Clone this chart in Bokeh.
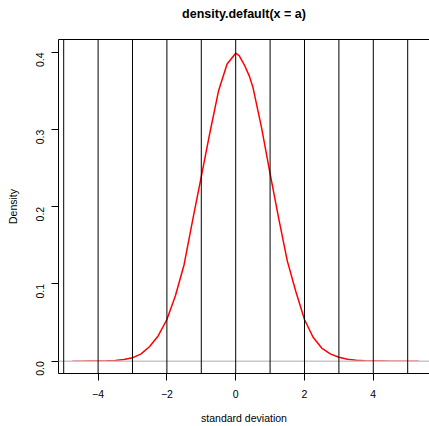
import math
from bokeh.plotting import figure
from bokeh.models import Range1d, Span, LinearAxis, FixedTicker
from bokeh.embed import file_html
from bokeh.resources import INLINE

# Density curve
dens_x = [-4.75, -4.5, -4.25, -4.0, -3.75, -3.5, -3.25, -3.0, -2.75, -2.5, -2.25,
          -2.0, -1.75, -1.5, -1.25, -1.0, -0.75, -0.5, -0.25, 0.0, 0.1, 0.25, 0.4,
          0.5, 0.75, 1.0, 1.25, 1.5, 1.75, 2.0, 2.25, 2.5, 2.75, 3.0, 3.25, 3.5,
          3.75, 4.0, 4.25, 4.5, 4.75, 5.0, 5.32]
dens_y = [0.0000, 0.0000, 0.0001, 0.0002, 0.0004, 0.0009, 0.0020, 0.0043, 0.0095,
          0.019, 0.033, 0.054, 0.085, 0.125, 0.183, 0.239, 0.296, 0.350, 0.385,
          0.399, 0.396, 0.384, 0.369, 0.355, 0.303, 0.243, 0.185, 0.130, 0.090,
          0.054, 0.031, 0.017, 0.0094, 0.005, 0.0025, 0.0012, 0.0005, 0.0002,
          0.0001, 0.0000, 0.0000, 0.0000, 0.0000]

vlines = [-5, -4, -3, -2, -1, 0, 1, 2, 3, 4, 5]
hline = 0.0

xticks = [-4, -2, 0, 2, 4]
xtick_labels = ["\u22124", "\u22122", "0", "2", "4"]
yticks = [0.0, 0.1, 0.2, 0.3, 0.4]
ytick_labels = ["0.0", "0.1", "0.2", "0.3", "0.4"]

title_text = "density.default(x = a)"
xlabel = "standard deviation"
ylabel = "Density"

FONT = "Liberation Sans"

p = figure(width=429, height=426, output_backend="svg", toolbar_location=None,
           x_range=Range1d(-5.151, 5.634), y_range=Range1d(-0.0160, 0.4168),
           min_border_left=58, min_border_right=0, min_border_top=39,
           min_border_bottom=52)

p.outline_line_color = None
p.grid.visible = False
p.background_fill_color = "white"
p.border_fill_color = "white"

p.line(dens_x, dens_y, line_color="red", line_width=1.5)

p.add_layout(Span(location=hline, dimension="width", line_color="#c8c8c8",
                  line_width=1.5))
for v in vlines:
    p.add_layout(Span(location=v, dimension="height", line_color="black",
                      line_width=1))

for ax, ticks, labels in ((p.xaxis[0], xticks, xtick_labels),
                          (p.yaxis[0], yticks, ytick_labels)):
    ax.ticker = FixedTicker(ticks=ticks)
    ax.major_label_overrides = {t: l for t, l in zip(ticks, labels)}
    ax.axis_line_color = "black"
    ax.major_tick_line_color = "black"
    ax.major_tick_out = 7
    ax.major_tick_in = 0
    ax.minor_tick_line_color = None
    ax.major_label_text_font = FONT
    ax.major_label_text_font_size = "10.5px"
    ax.major_label_text_color = "black"
    ax.axis_label_text_font = FONT
    ax.axis_label_text_font_size = "10.5px"
    ax.axis_label_text_font_style = "normal"
    ax.axis_label_text_color = "black"

p.xaxis[0].axis_label = xlabel
p.xaxis[0].major_label_standoff = 9
p.xaxis[0].axis_label_standoff = 11
p.yaxis[0].axis_label = ylabel
p.yaxis[0].major_label_orientation = math.pi / 2
p.yaxis[0].major_label_standoff = 11
p.yaxis[0].axis_label_standoff = 11

# top frame line carrying the main title
top_axis = LinearAxis(ticker=FixedTicker(ticks=[]), axis_line_color="black",
                      major_tick_line_color=None, minor_tick_line_color=None,
                      major_tick_out=0, major_label_standoff=0,
                      major_label_text_font_size="0px",
                      axis_label=title_text, axis_label_text_font=FONT,
                      axis_label_text_font_size="12.5px",
                      axis_label_text_font_style="bold",
                      axis_label_text_color="black",
                      axis_label_standoff=19)
p.add_layout(top_axis, "above")

open("out.html", "w").write(file_html(p, INLINE))
